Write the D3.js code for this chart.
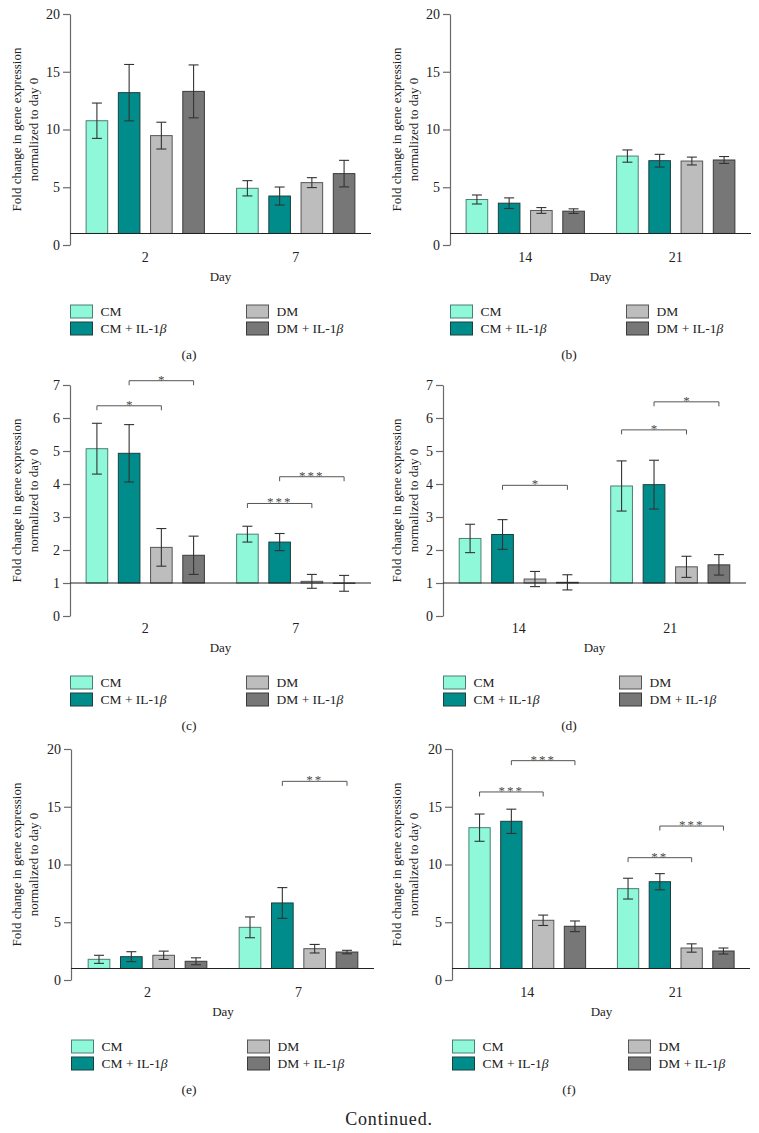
<!DOCTYPE html>
<html><head><meta charset="utf-8">
<script src="https://cdn.jsdelivr.net/npm/d3@7"></script>
<style>
body{margin:0;background:#fff}
svg{display:block}
</style>
</head><body>
<svg id="chart" width="759" height="1133" font-family="Liberation Serif"></svg>
<script>
// ---------------- data ----------------
const groups = ["CM", "CM + IL-1β", "DM", "DM + IL-1β"];
const daysEarly = ["2", "7"];
const daysLate = ["14", "21"];
const ticks20 = [0, 5, 10, 15, 20];
const ticks7 = [0, 1, 2, 3, 4, 5, 6, 7];
const captions = ["(a)", "(b)", "(c)", "(d)", "(e)", "(f)"];
const yLabelLines = ["Fold change in gene expression", "normalized to day 0"];
const xLabel = "Day";
const footer = "Continued.";

const meanA = [[10.76, 13.19, 9.47, 13.30], [4.91, 4.24, 5.40, 6.18]];
const errA  = [[1.53, 2.44, 1.16, 2.29], [0.66, 0.78, 0.43, 1.15]];
const meanB = [[3.94, 3.62, 2.99, 2.93], [7.70, 7.30, 7.27, 7.36]];
const errB  = [[0.39, 0.46, 0.25, 0.20], [0.53, 0.55, 0.34, 0.30]];
const meanC = [[5.07, 4.93, 2.08, 1.84], [2.48, 2.24, 1.05, 0.99]];
const errC  = [[0.77, 0.87, 0.57, 0.58], [0.24, 0.26, 0.21, 0.24]];
const meanD = [[2.35, 2.47, 1.12, 1.02], [3.94, 3.98, 1.49, 1.55]];
const errD  = [[0.43, 0.45, 0.23, 0.23], [0.76, 0.74, 0.32, 0.31]];
const meanE = [[1.79, 2.02, 2.14, 1.62], [4.56, 6.67, 2.71, 2.42]];
const errE  = [[0.35, 0.43, 0.36, 0.30], [0.90, 1.33, 0.37, 0.15]];
const meanF = [[13.19, 13.74, 5.17, 4.65], [7.91, 8.51, 2.77, 2.51]];
const errF  = [[1.18, 1.05, 0.45, 0.46], [0.90, 0.70, 0.36, 0.26]];

// significance brackets: [day index, from group, to group, bracket height, label]
const sigA = [];
const sigB = [];
const sigC = [[0, 0, 2, 6.37, "*"], [0, 1, 3, 7.13, "*"], [1, 0, 2, 3.41, "***"], [1, 1, 3, 4.22, "***"]];
const sigD = [[0, 1, 3, 3.96, "*"], [1, 0, 2, 5.64, "*"], [1, 1, 3, 6.49, "*"]];
const sigE = [[1, 1, 3, 17.2, "**"]];
const sigF = [[0, 0, 2, 16.28, "***"], [0, 1, 3, 18.99, "***"], [1, 0, 2, 10.59, "**"], [1, 1, 3, 13.33, "***"]];

const baselineValue = 1;

// ---------------- styles / layout ----------------
const FONT = '"Liberation Serif", "Times New Roman", Times, "DejaVu Serif", serif';
const fills = ["#8ef8d8", "#008c8b", "#bdbdbd", "#777777"];
const strokes = ["#4d7f74", "#1c4040", "#555555", "#3a3a3a"];

const panels = [
  {means: meanA, errs: errA, sig: sigA, days: daysEarly, ticks: ticks20, left: 0,   axisX: 70,  x0: 70,  x1: 371, yB: 245, yT: 14},
  {means: meanB, errs: errB, sig: sigB, days: daysLate,  ticks: ticks20, left: 380, axisX: 450, x0: 450, x1: 751, yB: 245, yT: 14},
  {means: meanC, errs: errC, sig: sigC, days: daysEarly, ticks: ticks7,  left: 0,   axisX: 70,  x0: 70,  x1: 371, yB: 616, yT: 385},
  {means: meanD, errs: errD, sig: sigD, days: daysLate,  ticks: ticks7,  left: 380, axisX: 443, x0: 443, x1: 746, yB: 616, yT: 385},
  {means: meanE, errs: errE, sig: sigE, days: daysEarly, ticks: ticks20, left: 0,   axisX: 71,  x0: 72,  x1: 374, yB: 980, yT: 749},
  {means: meanF, errs: errF, sig: sigF, days: daysLate,  ticks: ticks20, left: 380, axisX: 452, x0: 453, x1: 750, yB: 980, yT: 749},
];

const svg = d3.select("#chart");

function labelWithBeta(sel, s) {
  if (s.endsWith("β")) {
    sel.append("tspan").text(s.slice(0, -1));
    sel.append("tspan").style("font-style", "italic").text("β");
  } else sel.text(s);
}

panels.forEach((p, pi) => {
  const g = svg.append("g");
  const y = d3.scaleLinear().domain([0, d3.max(p.ticks)]).range([p.yB, p.yT]);
  const xDay = d3.scaleBand().domain(p.days).range([p.x0, p.x1]).padding(0);
  const xGrp = d3.scaleBand().domain(d3.range(groups.length)).range([0, xDay.bandwidth()])
    .paddingInner(0.33).paddingOuter(0.5);
  const cx = (di, gi) => xDay(p.days[di]) + xGrp(gi) + xGrp.bandwidth() / 2;

  // y axis
  const ax = g.append("g").attr("transform", `translate(${p.axisX},0)`)
    .call(d3.axisLeft(y).tickValues(p.ticks).tickSize(7).tickSizeOuter(0).tickPadding(3).tickFormat(d3.format("d")));
  ax.attr("font-family", null).attr("font-size", null);
  ax.select(".domain").attr("stroke", "#6a6a6a").attr("stroke-width", 1.2);
  ax.selectAll(".tick line").attr("stroke", "#6a6a6a").attr("stroke-width", 1.2);
  ax.selectAll(".tick text").style("font-size", "14px").attr("fill", "#222");

  // bars
  p.days.forEach((day, di) => {
    groups.forEach((grp, gi) => {
      const v = p.means[di][gi];
      const yv = y(v), y1 = y(baselineValue);
      g.append("rect")
        .attr("x", xDay(day) + xGrp(gi))
        .attr("y", Math.min(yv, y1))
        .attr("width", xGrp.bandwidth())
        .attr("height", Math.abs(y1 - yv))
        .attr("fill", fills[gi]).attr("stroke", strokes[gi]).attr("stroke-width", 1);
    });
  });

  // baseline at 1
  g.append("line").attr("x1", p.axisX).attr("x2", p.x1)
    .attr("y1", y(baselineValue)).attr("y2", y(baselineValue))
    .attr("stroke", "#222").attr("stroke-width", 1.1);

  // error bars
  p.days.forEach((day, di) => {
    groups.forEach((grp, gi) => {
      const v = p.means[di][gi], e = p.errs[di][gi];
      const c = cx(di, gi);
      const eg = g.append("g").attr("stroke", "#333").attr("stroke-width", 1.1);
      eg.append("line").attr("x1", c).attr("x2", c).attr("y1", y(v + e)).attr("y2", y(v - e));
      eg.append("line").attr("x1", c - 5).attr("x2", c + 5).attr("y1", y(v + e)).attr("y2", y(v + e));
      eg.append("line").attr("x1", c - 5).attr("x2", c + 5).attr("y1", y(v - e)).attr("y2", y(v - e));
    });
  });

  // significance brackets
  p.sig.forEach(([di, ga, gb, h, lab]) => {
    const xa = cx(di, ga), xb = cx(di, gb), yy = y(h);
    g.append("path")
      .attr("d", `M${xa},${yy + 4.5}V${yy}H${xb}V${yy + 4.5}`)
      .attr("fill", "none").attr("stroke", "#555").attr("stroke-width", 1);
    g.append("text").attr("x", (xa + xb) / 2).attr("y", yy + 3)
      .attr("text-anchor", "middle").style("font-size", "13px").attr("letter-spacing", lab.length > 1 ? 2 : 0)
      .attr("fill", "#4a4a4a").text(lab);
  });

  // category labels
  p.days.forEach(day => {
    g.append("text").attr("x", xDay(day) + xDay.bandwidth() / 2).attr("y", p.yB + 16.5)
      .attr("text-anchor", "middle").style("font-size", "14px").text(day);
  });
  // x title
  g.append("text").attr("x", (p.x0 + p.x1) / 2).attr("y", p.yB + 35.5)
    .attr("text-anchor", "middle").style("font-size", "13px").text(xLabel);

  // y title
  const yc = (p.yB + p.yT) / 2;
  yLabelLines.forEach((line, li) => {
    g.append("text").attr("transform", `translate(${p.left + 20.5 + li * 17.5},${yc}) rotate(-90)`)
      .attr("text-anchor", "middle").style("font-size", "13px").text(line);
  });

  // legend
  const lx = p.axisX + 0.5;
  groups.forEach((grp, gi) => {
    const col = Math.floor(gi / 2), row = gi % 2;
    const sx = lx + col * 176, sy = p.yB + 60 + row * 17;
    g.append("rect").attr("x", sx).attr("y", sy).attr("width", 22).attr("height", 13)
      .attr("fill", fills[gi]).attr("stroke", strokes[gi]).attr("stroke-width", 1);
    const t = g.append("text").attr("x", sx + 30).attr("y", sy + 11).style("font-size", "13.5px");
    labelWithBeta(t, grp);
  });

  // caption
  g.append("text").attr("x", p.left + 189).attr("y", p.yB + 113.5)
    .attr("text-anchor", "middle").style("font-size", "13.5px").text(captions[pi]);
});

svg.append("text").attr("x", 389).attr("y", 1125).attr("text-anchor", "middle")
  .style("font-size", "18px").attr("letter-spacing", 0.8).text(footer);

svg.selectAll("text").style("font-family", FONT);
svg.selectAll("text:not([fill])").attr("fill", "#222");
</script>
</body></html>
